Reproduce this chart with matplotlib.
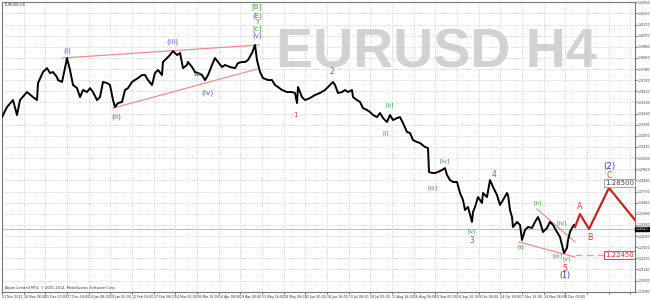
import matplotlib
matplotlib.use('Agg')
import matplotlib.pyplot as plt
import numpy as np

# EURUSD H4 closes (x = bar number, 3 bars per pixel)
bars = [0, 15, 33, 45, 54, 75, 93, 105, 108, 123, 135, 144, 153, 165, 168, 180, 189, 195, 204, 213,
        225, 234, 243, 255, 264, 273, 285, 294, 303, 315, 324, 333, 339, 348, 360, 369, 378, 390, 399, 408,
        420, 429, 438, 450, 459, 468, 480, 483, 495, 504, 513, 525, 534, 543, 555, 558, 570, 579, 588, 600,
        609, 618, 630, 639, 648, 660, 669, 684, 699, 708, 720, 729, 738, 750, 759, 765, 774, 783, 798, 810,
        819, 828, 840, 855, 870, 879, 885, 888, 900, 909, 924, 939, 954, 969, 984, 993, 999, 1008, 1020, 1029,
        1038, 1050, 1053, 1065, 1074, 1083, 1095, 1104, 1113, 1125, 1134, 1143, 1155, 1164, 1173, 1185, 1194, 1203, 1215, 1224,
        1233, 1245, 1254, 1269, 1278, 1281, 1290, 1299, 1308, 1320, 1329, 1335, 1344, 1353, 1365, 1374, 1383, 1389, 1398, 1410,
        1413, 1419, 1428, 1440, 1443, 1455, 1464, 1473, 1485, 1494, 1503, 1515, 1518, 1524, 1530, 1533, 1545, 1554, 1560, 1569,
        1578, 1590, 1599, 1608, 1614, 1623, 1635, 1644, 1653, 1665, 1674, 1680, 1686, 1695, 1698, 1704, 1710, 1716]
closes = [1.3397, 1.3481, 1.3539, 1.3414, 1.3539, 1.3606, 1.3564, 1.3539, 1.3681, 1.3773, 1.3806, 1.3765, 1.3773, 1.3731, 1.3706, 1.3690, 1.3806, 1.3890, 1.3790, 1.3665,
          1.3639, 1.3564, 1.3623, 1.3606, 1.3639, 1.3606, 1.3539, 1.3564, 1.3690, 1.3681, 1.3665, 1.3539, 1.3481, 1.3514, 1.3523, 1.3623, 1.3639, 1.3690, 1.3706, 1.3723,
          1.3748, 1.3748, 1.3706, 1.3665, 1.3765, 1.3790, 1.3748, 1.3857, 1.3890, 1.3915, 1.3948, 1.3915, 1.3932, 1.3806, 1.3832, 1.3857, 1.3815, 1.3773, 1.3765, 1.3748,
          1.3706, 1.3748, 1.3832, 1.3890, 1.3857, 1.3815, 1.3832, 1.3815, 1.3806, 1.3848, 1.3857, 1.3857, 1.3873, 1.3932, 1.3999, 1.3873, 1.3773, 1.3723, 1.3706, 1.3706,
          1.3665, 1.3648, 1.3623, 1.3606, 1.3606, 1.3598, 1.3514, 1.3648, 1.3564, 1.3539, 1.3556, 1.3581, 1.3598, 1.3623, 1.3665, 1.3690, 1.3665, 1.3598, 1.3606, 1.3623,
          1.3606, 1.3623, 1.3564, 1.3539, 1.3523, 1.3472, 1.3456, 1.3439, 1.3414, 1.3397, 1.3431, 1.3389, 1.3356, 1.3414, 1.3372, 1.3389, 1.3397, 1.3347, 1.3272, 1.3264,
          1.3205, 1.3189, 1.3180, 1.3147, 1.3138, 1.2938, 1.2930, 1.2930, 1.2938, 1.2955, 1.2971, 1.2913, 1.2871, 1.2855, 1.2855, 1.2763, 1.2704, 1.2621, 1.2646, 1.2521,
          1.2604, 1.2646, 1.2729, 1.2679, 1.2763, 1.2729, 1.2871, 1.2813, 1.2746, 1.2663, 1.2704, 1.2763, 1.2746, 1.2621, 1.2562, 1.2479, 1.2521, 1.2496, 1.2370, 1.2454,
          1.2479, 1.2471, 1.2521, 1.2562, 1.2521, 1.2437, 1.2471, 1.2521, 1.2496, 1.2437, 1.2395, 1.2329, 1.2262, 1.2304, 1.2370, 1.2437, 1.2471, 1.2496]

bid = 1.2462

# projected (2) wave: A-B-C
proj_bars = [1719, 1734, 1761, 1821, 1899]
proj_prices = [1.2479, 1.2587, 1.2462, 1.2805, 1.2537]

# salmon trend lines (bar0, price0, bar1, price1)
trendlines = [(180, 1.3890, 771, 1.3999),
              (333, 1.3472, 765, 1.3798),
              (1605, 1.2629, 1719, 1.2354),
              (1551, 1.2354, 1719, 1.2228)]

# wave labels: text, bar, price, colour, size
blue = '#5a5ae0'
green = '#3c9c3c'
red = '#d04848'
waves = [('(i)', 195, 1.3948, blue, 5.3), ('(ii)', 342, 1.3397, blue, 5.3), ('(iii)', 510, 1.4024, blue, 5.3),
         ('(iv)', 615, 1.3598, blue, 5.3), ('(v)', 765, 1.4074, blue, 5), ('[c]', 765, 1.4132, green, 5),
         ('Y', 765, 1.4191, red, 5), ('(E)', 765, 1.4241, blue, 5), ('[B]', 765, 1.4316, green, 5),
         ('1', 879, 1.3414, red, 5), ('2', 990, 1.3781, red, 5.5),
         ('[ii]', 1164, 1.3498, green, 4.5), ('[i]', 1152, 1.3264, green, 4.5),
         ('[iv]', 1329, 1.3030, green, 4.5), ('[iii]', 1293, 1.2804, green, 4.5), ('[v]', 1410, 1.2445, green, 4.5),
         ('3', 1410, 1.2362, red, 5.5), ('4', 1476, 1.2921, red, 5.5),
         ('[i]', 1557, 1.2312, green, 4.5), ('[ii]', 1608, 1.2679, green, 4.5), ('[iv]', 1680, 1.2512, green, 4.5),
         ('[iii]', 1668, 1.2237, green, 4.5), ('[v]', 1695, 1.2212, green, 4.5),
         ('5', 1689, 1.2136, red, 5.8), ('(1)', 1689, 1.2070, '#3838c8', 5.8),
         ('A', 1734, 1.2646, red, 5.8), ('B', 1764, 1.2395, red, 5.8), ('C', 1821, 1.2913, red, 5.8),
         ('(2)', 1821, 1.2980, '#3838c8', 6.2)]

date_labels = ['11 Nov 2013', '26 Nov 08:00', '11 Dec 00:00', '27 Dec 04:00', '14 Jan 08:00', '29 Jan 00:00',
               '12 Feb 16:00', '27 Feb 08:00', '14 Mar 00:00', '28 Mar 16:00', '14 Apr 08:00', '29 Apr 00:00',
               '13 May 16:00', '28 May 08:00', '12 Jun 00:00', '26 Jun 16:00', '11 Jul 08:00', '28 Jul 00:00',
               '11 Aug 16:00', '26 Aug 08:00', '10 Sep 00:00', '24 Sep 16:00', '9 Oct 08:00', '24 Oct 00:00',
               '7 Nov 16:00', '24 Nov 08:00', '9 Dec 00:00']
bars_per_label = 65

target_high = 1.2850
target_low = 1.2245

fig = plt.figure(figsize=(6.5, 3.0), dpi=100)
ax = fig.add_axes([2/650, 8/300, 633/650, 290/300])
xmax = 1899
ax.set_xlim(0, xmax)
ax.set_ylim(1.1936, 1.4358)

# grid
yt = 1.3147 + 0.0093*np.arange(-13, 14)
ax.set_yticks(yt)
ax.set_yticklabels(['%.5f' % v for v in yt])
xt = np.arange(0, xmax, bars_per_label)
ax.set_xticks(xt)
ax.set_xticklabels([date_labels[i] if i < len(date_labels) else '' for i in range(len(xt))])
ax.grid(True, color='#c8c8c8', linestyle=(0, (1, 1.5)), linewidth=0.6)
ax.set_axisbelow(True)
ax.yaxis.tick_right()
ax.tick_params(axis='y', labelsize=2.2, length=1.2, width=0.5, pad=0.6, colors='#333333')
ax.tick_params(axis='x', labelsize=2.3, length=1.5, width=0.5, pad=0.8, colors='#333333')
for lbl in ax.get_xticklabels():
    lbl.set_horizontalalignment('left')
for s in ax.spines.values():
    s.set_color('#777777')
    s.set_linewidth(0.8)

# watermark
ax.text(0.687, 0.824, 'EURUSD H4', transform=ax.transAxes, fontsize=40, fontweight='bold',
        family='Liberation Sans', color='#d2d2d2', ha='center', va='center', zorder=0.5)

# bid line
ax.axhline(bid, color='#c0c0c0', linewidth=0.8, zorder=1)

# trend lines
for b0, p0, b1, p1 in trendlines:
    ax.plot([b0, b1], [p0, p1], color='#e89090', linewidth=0.9, zorder=2)

# price
ax.plot(bars, closes, color='black', linewidth=1.4, zorder=3)

# projection
ax.plot(proj_bars, proj_prices, color='#c82020', linewidth=1.6, zorder=4)
ax.plot([1719, 1830], [target_low, target_low], color='#e89a9a', linewidth=1.0, linestyle=(0, (5, 3)), zorder=2)

# price boxes
ax.text(1896, 1.2846, '%.5f' % target_high, fontsize=5, color='#444444', ha='right', va='center', zorder=5,
        bbox=dict(boxstyle='square,pad=0.12', fc='white', ec='#999999', lw=0.6))
ax.text(1896, target_low, '%.5f' % target_low, fontsize=5, color='#d03030', ha='right', va='center', zorder=5,
        bbox=dict(boxstyle='square,pad=0.12', fc='white', ec='#d03030', lw=0.6))
ax.text(1.001, bid, '%.5f' % bid, transform=ax.get_yaxis_transform(), fontsize=2.2, color='white',
        ha='left', va='center', clip_on=False, bbox=dict(boxstyle='square,pad=0.15', fc='black', ec='black'))

# wave labels
for t, b, p, c, sz in waves:
    ax.text(b, p, t, color=c, fontsize=sz, ha='center', va='center', zorder=5)
ax.text(585, 1.3756, 'w', color=green, fontsize=4.5, fontweight='bold', ha='center', va='center', zorder=5)

ax.text(0.004, 0.995, 'EURUSD,H4', transform=ax.transAxes, fontsize=2.5, color='#333333', ha='left', va='top')
ax.text(0.004, 0.006, 'Alpari Limited MT4, \u00a9 2001-2014, MetaQuotes Software Corp.', transform=ax.transAxes,
        fontsize=2.5, color='#333333', ha='left', va='bottom')

fig.savefig('out.png', dpi=100, facecolor='white')
